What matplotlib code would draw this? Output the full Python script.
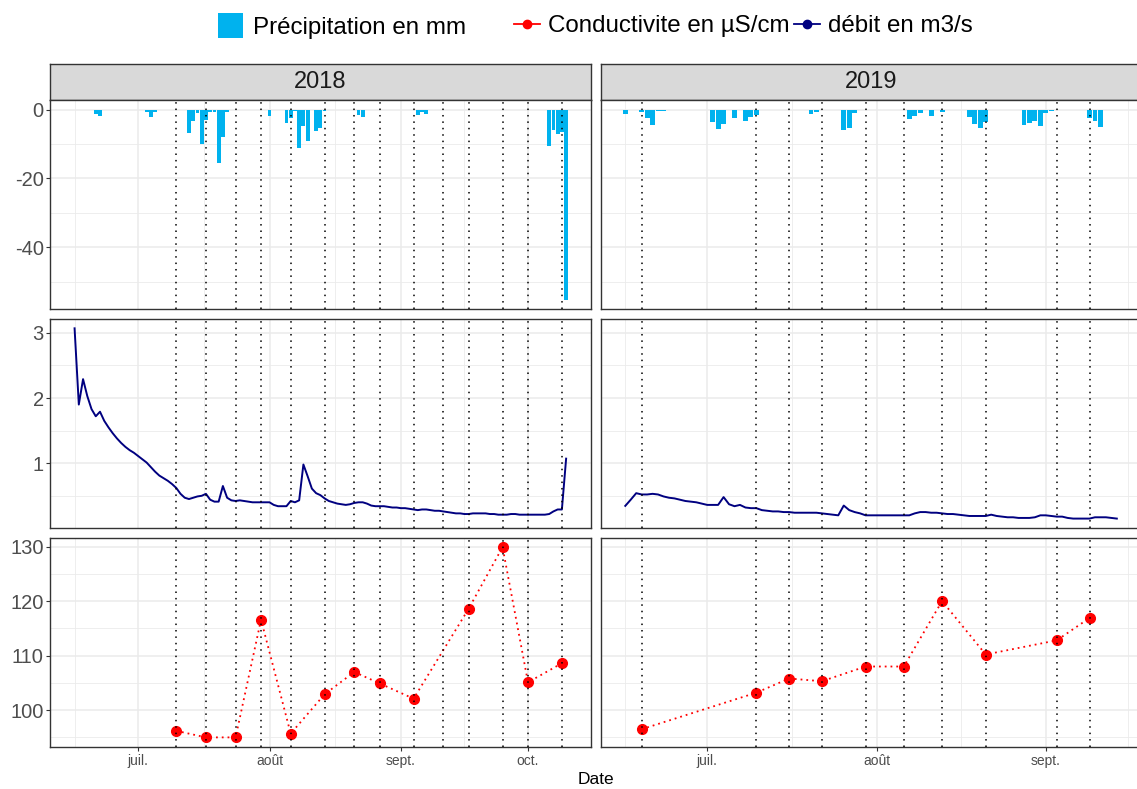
import numpy as np
import pandas as pd
import matplotlib
matplotlib.use("Agg")
import matplotlib.pyplot as plt
import matplotlib.dates as mdates
import matplotlib.ticker as mticker
from matplotlib.lines import Line2D
from matplotlib.patches import Patch

plt.rcParams['font.family'] = ['Liberation Sans', 'DejaVu Sans']
plt.rcParams['axes.unicode_minus'] = False

# pluie journaliere (jours de pluie seulement), en mm
rain_2018_dates = ["2018-06-21", "2018-06-22", "2018-07-03", "2018-07-04", "2018-07-05",
                   "2018-07-06", "2018-07-13", "2018-07-14", "2018-07-15", "2018-07-16",
                   "2018-07-17", "2018-07-18", "2018-07-19", "2018-07-20", "2018-07-21",
                   "2018-07-22", "2018-07-29", "2018-08-01", "2018-08-05", "2018-08-06",
                   "2018-08-07", "2018-08-08", "2018-08-09", "2018-08-10", "2018-08-12",
                   "2018-08-13", "2018-08-14", "2018-08-22", "2018-08-23", "2018-08-30",
                   "2018-09-05", "2018-09-06", "2018-09-07", "2018-09-17", "2018-09-18",
                   "2018-09-19", "2018-09-23", "2018-10-06", "2018-10-07", "2018-10-08",
                   "2018-10-09", "2018-10-10"]
rain_2018_mm = [1.2, 1.9, 0.7, 2.1, 0.7,
                0.2, 6.8, 3.3, 0.9, 10.0,
                3.1, 0.6, 0.6, 15.4, 8.1,
                0.6, 0.2, 1.8, 3.8, 2.5,
                0.3, 11.2, 4.8, 9.1, 6.2,
                5.4, 0.5, 1.7, 2.1, 0.2,
                1.5, 0.6, 1.4, 0.1, 0.1,
                0.1, 0.1, 10.5, 6.0, 7.0,
                6.5, 55.2]

rain_2019_dates = ["2019-06-16", "2019-06-19", "2019-06-20", "2019-06-21", "2019-06-22",
                   "2019-06-23", "2019-06-28", "2019-07-02", "2019-07-03", "2019-07-04",
                   "2019-07-06", "2019-07-08", "2019-07-09", "2019-07-10", "2019-07-20",
                   "2019-07-21", "2019-07-24", "2019-07-26", "2019-07-27", "2019-07-28",
                   "2019-08-07", "2019-08-08", "2019-08-09", "2019-08-11", "2019-08-13",
                   "2019-08-16", "2019-08-17", "2019-08-18", "2019-08-19", "2019-08-20",
                   "2019-08-21", "2019-08-22", "2019-08-28", "2019-08-29", "2019-08-30",
                   "2019-08-31", "2019-09-01", "2019-09-02", "2019-09-07", "2019-09-09",
                   "2019-09-10", "2019-09-11"]
rain_2019_mm = [1.4, 0.6, 2.6, 4.4, 0.4,
                0.4, 0.1, 3.5, 5.7, 4.2,
                2.5, 3.3, 2.1, 1.5, 1.2,
                0.7, 0.1, 6.0, 5.3, 1.0,
                2.8, 1.8, 1.0, 2.0, 0.8,
                0.1, 0.1, 2.2, 4.2, 5.3,
                3.7, 0.1, 4.4, 3.8, 3.3,
                4.8, 1.0, 0.4, 0.1, 2.5,
                3.3, 5.0]

# debit journalier en m3/s, a partir du 16 juin
debit_2018_start = "2018-06-16"
debit_2018 = [3.07, 1.90, 2.29, 2.03, 1.83, 1.72, 1.79, 1.65, 1.55, 1.46,
              1.38, 1.31, 1.25, 1.20, 1.16, 1.11, 1.06, 1.01, 0.94, 0.87,
              0.81, 0.77, 0.73, 0.68, 0.62, 0.53, 0.47, 0.45, 0.47, 0.49,
              0.50, 0.53, 0.44, 0.41, 0.41, 0.65, 0.47, 0.43, 0.42, 0.43,
              0.42, 0.41, 0.40, 0.40, 0.40, 0.40, 0.40, 0.36, 0.34, 0.34,
              0.34, 0.42, 0.40, 0.43, 0.98, 0.80, 0.61, 0.54, 0.51, 0.46,
              0.42, 0.40, 0.38, 0.37, 0.36, 0.37, 0.39, 0.40, 0.40, 0.38,
              0.35, 0.34, 0.34, 0.34, 0.33, 0.32, 0.32, 0.31, 0.31, 0.30,
              0.29, 0.28, 0.29, 0.29, 0.28, 0.27, 0.27, 0.26, 0.25, 0.24,
              0.23, 0.23, 0.22, 0.22, 0.23, 0.23, 0.23, 0.23, 0.22, 0.22,
              0.21, 0.21, 0.21, 0.22, 0.22, 0.21, 0.21, 0.21, 0.21, 0.21,
              0.21, 0.21, 0.22, 0.26, 0.29, 0.29, 1.07]

debit_2019_start = "2019-06-16"
debit_2019 = [0.345, 0.44, 0.54, 0.52, 0.52, 0.53, 0.52, 0.49, 0.47, 0.46,
              0.44, 0.42, 0.41, 0.40, 0.38, 0.36, 0.36, 0.36, 0.48, 0.37,
              0.34, 0.36, 0.32, 0.31, 0.31, 0.28, 0.27, 0.26, 0.26, 0.25,
              0.25, 0.24, 0.24, 0.24, 0.24, 0.24, 0.23, 0.22, 0.21, 0.20,
              0.35, 0.28, 0.25, 0.23, 0.20, 0.20, 0.20, 0.20, 0.20, 0.20,
              0.20, 0.20, 0.20, 0.23, 0.25, 0.25, 0.24, 0.24, 0.23, 0.22,
              0.22, 0.21, 0.20, 0.19, 0.19, 0.19, 0.19, 0.21, 0.19, 0.18,
              0.17, 0.17, 0.16, 0.16, 0.16, 0.17, 0.20, 0.20, 0.19, 0.18,
              0.18, 0.16, 0.15, 0.15, 0.15, 0.15, 0.17, 0.17, 0.17, 0.16,
              0.15]

# dates de prelevement et conductivite (NaN = pas de mesure)
prel_2018_dates = ["2018-07-10", "2018-07-17", "2018-07-24", "2018-07-30", "2018-08-06",
                   "2018-08-14", "2018-08-21", "2018-08-27", "2018-09-04", "2018-09-11",
                   "2018-09-17", "2018-09-25", "2018-10-01", "2018-10-09"]
cond_2018 = [96.2, 95.0, 95.0, 116.6, 95.7,
             102.9, 107.0, 104.9, 102.1, np.nan,
             118.6, 129.9, 105.1, 108.6]

prel_2019_dates = ["2019-06-19", "2019-07-10", "2019-07-16", "2019-07-22", "2019-07-30",
                   "2019-08-06", "2019-08-13", "2019-08-21", "2019-09-03", "2019-09-09",
                   "2019-09-18"]
cond_2019 = [96.5, 103.2, 105.8, 105.3, 108.0,
             108.0, 120.0, 110.2, 112.8, 116.9,
             np.nan]

month_labels = {6: "juin", 7: "juil.", 8: "août", 9: "sept.", 10: "oct."}

years = [
    dict(year=2018, rain_d=rain_2018_dates, rain=rain_2018_mm,
         q_start=debit_2018_start, q=debit_2018, prel=prel_2018_dates, cond=cond_2018),
    dict(year=2019, rain_d=rain_2019_dates, rain=rain_2019_mm,
         q_start=debit_2019_start, q=debit_2019, prel=prel_2019_dates, cond=cond_2019),
]

RAIN_COL = "#00B2EE"
Q_COL = "#000080"
COND_COL = "red"
GRID = "#EBEBEB"
BORDER = "#333333"
TXT = "#4D4D4D"

W, H = 1137, 789
fig = plt.figure(figsize=(W / 100, H / 100), dpi=100)


def px_axes(x0, y0, x1, y1):
    return fig.add_axes([x0 / W, 1 - y1 / H, (x1 - x0) / W, (y1 - y0) / H])


def padded(lo, hi, frac=0.05):
    d = (hi - lo) * frac
    return lo - d, hi + d


col_x = [(50, 590.7), (600.7, 1141.4)]
row_y = [(100, 309.3), (318.8, 528.1), (537.6, 746.9)]
strip_y = (64.3, 100)

# shared y ranges per row, as in a facet grid
all_rain = -np.array(rain_2018_mm + rain_2019_mm)
all_q = np.array(debit_2018 + debit_2019)
all_c = np.array(cond_2018 + cond_2019)
ylims = [padded(min(all_rain.min(), 0), max(all_rain.max(), 0)),
         padded(all_q.min(), all_q.max()),
         padded(np.nanmin(all_c), np.nanmax(all_c))]
ysteps = [(20, 10), (1, 0.5), (10, 5)]

for ci, yr in enumerate(years):
    rain_d = pd.to_datetime(yr["rain_d"])
    q_d = pd.date_range(yr["q_start"], periods=len(yr["q"]), freq="D")
    prel_d = pd.to_datetime(yr["prel"])
    cond = np.array(yr["cond"])
    ok = ~np.isnan(cond)

    dmin = min(rain_d.min(), q_d.min(), prel_d[ok].min())
    dmax = max(rain_d.max(), q_d.max(), prel_d[ok].max())
    xlo, xhi = padded(mdates.date2num(dmin), mdates.date2num(dmax))

    # month breaks and mid-month minor breaks
    months = pd.date_range(pd.Timestamp(dmin).to_period("M").to_timestamp() - pd.DateOffset(months=1),
                           pd.Timestamp(dmax).to_period("M").to_timestamp() + pd.DateOffset(months=2),
                           freq="MS")
    mnum = mdates.date2num(months)
    major = [m for m in mnum if xlo <= m <= xhi]
    minor = [(a + b) / 2 for a, b in zip(mnum[:-1], mnum[1:]) if xlo <= (a + b) / 2 <= xhi]
    labels = [month_labels[mdates.num2date(m).month] for m in major]

    x0, x1 = col_x[ci]
    strip = px_axes(x0, strip_y[0], x1, strip_y[1])
    strip.set_facecolor("#D9D9D9")
    strip.set_xticks([])
    strip.set_yticks([])
    for s in strip.spines.values():
        s.set_color(BORDER)
        s.set_linewidth(1.0)
    strip.text(0.5, 0.5, str(yr["year"]), ha="center", va="center",
               fontsize=17, color="#1A1A1A", transform=strip.transAxes)

    for ri in range(3):
        y0, y1 = row_y[ri]
        ax = px_axes(x0, y0, x1, y1)
        ax.set_xlim(xlo, xhi)
        ax.set_ylim(*ylims[ri])
        ax.set_axisbelow(True)

        if ri == 0:
            ax.bar(rain_d, -np.array(yr["rain"]), width=0.9, color=RAIN_COL, zorder=2)
        elif ri == 1:
            ax.plot(q_d, yr["q"], color=Q_COL, lw=1.4, zorder=2)
        else:
            ax.plot(prel_d[ok], cond[ok], color=COND_COL, lw=1.3,
                    ls=(0, (1, 2.2)), zorder=2)
            ax.plot(prel_d[ok], cond[ok], "o", color=COND_COL, ms=7, zorder=3)

        for d in prel_d:
            ax.axvline(d, color="black", lw=1.1, ls=(0, (1, 3.2)), zorder=4)

        ax.xaxis.set_major_locator(mticker.FixedLocator(major))
        ax.xaxis.set_minor_locator(mticker.FixedLocator(minor))
        ax.yaxis.set_major_locator(mticker.MultipleLocator(ysteps[ri][0]))
        ax.yaxis.set_minor_locator(mticker.MultipleLocator(ysteps[ri][1]))
        ax.grid(which="major", color=GRID, lw=1.1)
        ax.grid(which="minor", color=GRID, lw=0.6)

        for s in ax.spines.values():
            s.set_color(BORDER)
            s.set_linewidth(1.0)

        ax.tick_params(which="minor", length=0)
        ax.tick_params(axis="y", which="major", length=3, width=0.8, color=BORDER,
                       labelsize=14.5, labelcolor=TXT, pad=1.5)
        ax.tick_params(axis="x", which="major", length=3, width=0.8, color=BORDER,
                       labelsize=10, labelcolor=TXT, pad=2)
        if ci > 0:
            ax.tick_params(axis="y", length=0, labelleft=False)
        if ri < 2:
            ax.tick_params(axis="x", length=0, labelbottom=False)
        else:
            ax.set_xticklabels(labels)

fig.text(595.7 / W, 1 - 779 / H, "Date", ha="center", va="center", fontsize=12.5)

leg_fill = [Patch(facecolor=RAIN_COL, edgecolor="none", label="Précipitation en mm")]
fig.legend(handles=leg_fill, loc="center left", bbox_to_anchor=(218 / W, 1 - 26 / H),
           frameon=False, fontsize=17.4, borderpad=0, borderaxespad=0,
           handlelength=1.03, handleheight=1.21, handletextpad=0.41)

leg_col = [Line2D([], [], color=COND_COL, marker="o", ms=6, lw=1.3, label="Conductivite en µS/cm"),
           Line2D([], [], color=Q_COL, marker="o", ms=6, lw=1.3, label="débit en m3/s")]
fig.legend(handles=leg_col, loc="center left", bbox_to_anchor=(514 / W, 1 - 26 / H),
           ncol=2, frameon=False, fontsize=17.4, borderpad=0, borderaxespad=0,
           handlelength=1.07, handletextpad=0.33, columnspacing=0.2)

fig.savefig("out.png", dpi=100)
